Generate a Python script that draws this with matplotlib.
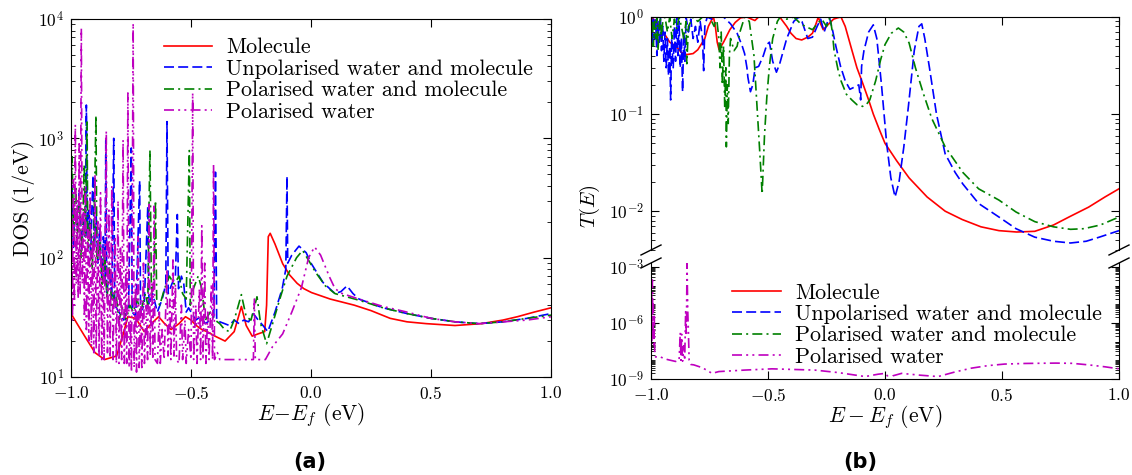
import numpy as np
import matplotlib
matplotlib.use("Agg")
import matplotlib.pyplot as plt
from matplotlib.ticker import LogLocator, FixedLocator, NullFormatter, LogFormatterSciNotation

plt.rcParams['font.family'] = 'serif'
plt.rcParams['font.serif'] = ['cmr10']
plt.rcParams['mathtext.fontset'] = 'cm'
plt.rcParams['axes.formatter.use_mathtext'] = True
plt.rcParams['axes.unicode_minus'] = True

labels = ['Molecule', 'Unpolarised water and molecule',
          'Polarised water and molecule', 'Polarised water']

# ---------- (a) DOS ----------
dos_mol_e = [-1.0, -0.97, -0.943, -0.9, -0.86, -0.81, -0.785, -0.763, -0.73, -0.695, -0.665, -0.635,
             -0.61, -0.583, -0.55, -0.523, -0.5, -0.478, -0.455, -0.433, -0.4, -0.358, -0.32, -0.29,
             -0.27, -0.245, -0.22, -0.193, -0.185, -0.178, -0.17, -0.15, -0.118, -0.09, -0.058,
             -0.03, 0.002, 0.08, 0.18, 0.25, 0.33, 0.4, 0.48, 0.6, 0.71, 0.8, 0.86, 0.93, 1.0]
dos_mol = [34, 27, 22, 16, 14, 15, 22, 32, 31, 24, 28, 32, 28, 25, 28, 32, 30, 27, 25, 24, 22, 20,
           24, 39, 27, 22, 23, 24, 40, 150, 160, 130, 89, 72, 61, 55, 51, 45, 40, 36, 31, 29, 28,
           27, 28, 30, 32, 35, 38]

dos_unpol_e = [-1.0, -0.995, -0.99, -0.985, -0.975, -0.965, -0.955, -0.948, -0.94, -0.936, -0.932,
               -0.925, -0.918, -0.912, -0.908, -0.903, -0.895, -0.888, -0.88, -0.872, -0.865,
               -0.858, -0.855, -0.851, -0.84, -0.83, -0.822, -0.818, -0.8, -0.78, -0.76, -0.749,
               -0.745, -0.73, -0.714, -0.71, -0.695, -0.68, -0.675, -0.66, -0.64, -0.62, -0.605,
               -0.6, -0.595, -0.58, -0.565, -0.557, -0.552, -0.54, -0.53, -0.52, -0.51, -0.5,
               -0.48, -0.46, -0.44, -0.42, -0.405, -0.398, -0.393, -0.38, -0.36, -0.34, -0.32,
               -0.3, -0.28, -0.26, -0.24, -0.22, -0.2, -0.18, -0.15, -0.12, -0.105, -0.1, -0.097,
               -0.08, -0.05, -0.02, 0.0, 0.05, 0.1, 0.125, 0.15, 0.175, 0.2, 0.3, 0.4, 0.5, 0.6,
               0.7, 0.8, 0.9, 1.0]
dos_unpol = [150, 400, 120, 250, 180, 350, 120, 200, 150, 1900, 150, 250, 100, 300, 490, 120, 220,
             90, 180, 70, 150, 60, 1020, 50, 80, 45, 1000, 40, 35, 30, 40, 830, 35, 32, 440, 35,
             40, 270, 40, 50, 35, 45, 60, 1380, 50, 60, 70, 230, 55, 70, 60, 35, 38, 35, 30, 32,
             28, 30, 32, 520, 30, 29, 28, 27, 30, 28, 30, 29, 34, 30, 27, 24, 35, 55, 80, 480, 90,
             105, 125, 110, 90, 62, 50, 52, 58, 50, 45, 38, 34, 31, 29, 28, 29, 31, 34]

dos_pol_e = [-1.0, -0.995, -0.99, -0.98, -0.975, -0.965, -0.958, -0.95, -0.945, -0.94, -0.933,
             -0.93, -0.92, -0.912, -0.905, -0.896, -0.892, -0.88, -0.87, -0.86, -0.85, -0.84,
             -0.83, -0.815, -0.8, -0.785, -0.77, -0.755, -0.74, -0.725, -0.71, -0.69, -0.68,
             -0.675, -0.671, -0.665, -0.655, -0.648, -0.643, -0.63, -0.61, -0.59, -0.57, -0.55,
             -0.535, -0.52, -0.507, -0.503, -0.49, -0.47, -0.455, -0.44, -0.42, -0.4, -0.38, -0.36,
             -0.34, -0.32, -0.29, -0.27, -0.25, -0.225, -0.21, -0.185, -0.16, -0.13, -0.1, -0.06,
             -0.035, -0.01, 0.02, 0.06, 0.1, 0.2, 0.3, 0.4, 0.5, 0.6, 0.7, 0.8, 0.9, 1.0]
dos_pol = [300, 700, 150, 400, 130, 300, 100, 220, 600, 150, 1370, 120, 200, 80, 150, 1550, 90,
           140, 60, 110, 45, 90, 40, 55, 30, 38, 30, 40, 35, 45, 35, 50, 40, 270, 790, 50, 60,
           300, 45, 40, 55, 70, 60, 70, 50, 45, 790, 40, 55, 70, 55, 30, 35, 30, 28, 25, 24, 30,
           49, 32, 30, 47, 28, 19, 28, 45, 70, 100, 115, 95, 75, 58, 50, 44, 38, 34, 31, 29, 28,
           29, 31, 33]

dos_water_e = [-1.0, -0.997, -0.994, -0.99, -0.986, -0.982, -0.978, -0.974, -0.97, -0.966, -0.962,
               -0.957, -0.953, -0.948, -0.944, -0.94, -0.936, -0.93, -0.926, -0.92, -0.915, -0.91,
               -0.905, -0.9, -0.895, -0.888, -0.883, -0.877, -0.872, -0.866, -0.862, -0.853,
               -0.848, -0.842, -0.837, -0.83, -0.825, -0.816, -0.811, -0.804, -0.8, -0.794,
               -0.789, -0.783, -0.778, -0.771, -0.768, -0.763, -0.758, -0.752, -0.748, -0.741,
               -0.737, -0.731, -0.727, -0.72, -0.716, -0.709, -0.705, -0.698, -0.694, -0.686,
               -0.681, -0.674, -0.67, -0.663, -0.659, -0.654, -0.65, -0.64, -0.632, -0.628, -0.62,
               -0.612, -0.6, -0.596, -0.588, -0.584, -0.575, -0.571, -0.565, -0.56, -0.55, -0.54,
               -0.535, -0.525, -0.52, -0.51, -0.5, -0.493, -0.489, -0.48, -0.475, -0.465, -0.46,
               -0.455, -0.45, -0.443, -0.438, -0.43, -0.425, -0.415, -0.41, -0.406, -0.402, -0.39,
               -0.38, -0.3, -0.24, -0.236, -0.232, -0.19, -0.16, -0.118, -0.08, -0.04, -0.01,
               0.015, 0.04, 0.077, 0.1, 0.13, 0.2, 0.3, 0.4, 0.5, 0.6, 0.7, 0.8, 0.9, 1.0]
dos_water = [25, 200, 30, 450, 40, 1300, 60, 300, 45, 900, 50, 8300, 60, 250, 30, 400, 25, 180, 20,
             350, 18, 150, 16, 500, 17, 200, 15, 350, 14, 120, 14, 1150, 16, 250, 15, 400, 14, 150,
             13, 300, 13, 120, 14, 970, 13, 80, 13, 2400, 12, 30, 11, 9200, 12, 60, 11, 150, 12,
             45, 12, 90, 13, 40, 14, 280, 15, 60, 14, 270, 14, 13, 35, 13, 25, 14, 80, 15, 45, 14,
             100, 15, 60, 14, 13, 40, 14, 30, 13, 25, 14, 2400, 14, 40, 13, 55, 14, 185, 14, 90,
             13, 35, 14, 60, 14, 610, 14, 16, 14, 14, 14, 45, 14, 14, 18, 23, 35, 56, 100, 123,
             105, 69, 55, 50, 45, 39, 35, 31, 29, 28, 29, 30, 32]

# ---------- (b) transmission ----------
t_mol_e = [-1.0, -0.98, -0.954, -0.92, -0.893, -0.87, -0.847, -0.82, -0.8, -0.77, -0.755, -0.74,
           -0.733, -0.725, -0.717, -0.709, -0.69, -0.663, -0.64, -0.617, -0.59, -0.57, -0.556,
           -0.54, -0.5, -0.45, -0.42, -0.402, -0.38, -0.356, -0.33, -0.31, -0.295, -0.285, -0.275,
           -0.264, -0.24, -0.22, -0.203, -0.188, -0.17, -0.142, -0.12, -0.096, -0.07, -0.05,
           -0.025, 0.0, 0.05, 0.103, 0.18, 0.257, 0.33, 0.41, 0.487, 0.563, 0.64, 0.72, 0.79,
           0.87, 0.94, 1.0]
t_mol = [1.0, 0.9, 0.74, 0.55, 0.5, 0.43, 0.41, 0.42, 0.46, 0.6, 0.8, 0.94, 1.0, 0.8, 0.55, 0.46,
         0.55, 0.74, 0.88, 0.98, 1.0, 0.95, 0.92, 1.0, 1.0, 1.0, 0.8, 0.68, 0.6, 0.58, 0.62, 0.68,
         0.85, 1.0, 0.85, 0.74, 0.85, 0.95, 0.98, 1.0, 0.8, 0.46, 0.3, 0.21, 0.14, 0.1, 0.07,
         0.05, 0.033, 0.022, 0.014, 0.010, 0.0082, 0.0069, 0.0063, 0.0061, 0.0062, 0.0072,
         0.0088, 0.011, 0.014, 0.017]

t_unpol_e = [-1.0, -0.995, -0.99, -0.985, -0.98, -0.975, -0.97, -0.965, -0.96, -0.955, -0.95,
             -0.945, -0.94, -0.935, -0.93, -0.925, -0.92, -0.916, -0.912, -0.905, -0.9, -0.895,
             -0.89, -0.885, -0.88, -0.875, -0.87, -0.865, -0.86, -0.855, -0.85, -0.84, -0.83,
             -0.82, -0.81, -0.8, -0.79, -0.78, -0.775, -0.77, -0.76, -0.74, -0.72, -0.69, -0.66,
             -0.632, -0.61, -0.6, -0.59, -0.586, -0.575, -0.565, -0.555, -0.54, -0.52, -0.505,
             -0.494, -0.48, -0.464, -0.45, -0.42, -0.39, -0.37, -0.355, -0.33, -0.31, -0.29,
             -0.275, -0.26, -0.245, -0.238, -0.225, -0.21, -0.19, -0.17, -0.15, -0.13, -0.112,
             -0.104, -0.1, -0.09, -0.07, -0.05, -0.035, -0.015, 0.007, 0.025, 0.043, 0.06, 0.08,
             0.1, 0.125, 0.145, 0.157, 0.17, 0.19, 0.22, 0.257, 0.3, 0.333, 0.4, 0.487, 0.56,
             0.64, 0.72, 0.793, 0.86, 0.916, 1.0]
t_unpol = [0.9, 0.5, 1.0, 0.6, 0.95, 0.4, 0.9, 0.55, 1.0, 0.45, 0.8, 0.35, 0.7, 0.3, 0.6, 0.25,
           0.5, 0.14, 0.6, 0.3, 0.8, 0.35, 1.0, 0.4, 0.9, 0.3, 0.6, 0.17, 0.7, 0.35, 1.0, 0.7,
           0.95, 0.6, 0.8, 0.55, 0.9, 0.6, 0.28, 0.8, 1.0, 0.95, 1.0, 1.0, 0.85, 0.68, 0.5, 0.42,
           0.3, 0.24, 0.17, 0.2, 0.3, 0.31, 0.4, 0.52, 0.55, 0.35, 0.27, 0.33, 0.6, 0.9, 1.0, 0.9,
           0.6, 0.62, 0.8, 0.95, 0.7, 0.9, 1.0, 0.75, 0.5, 0.31, 0.22, 0.18, 0.19, 0.2, 0.14,
           0.31, 0.45, 0.7, 0.83, 0.6, 0.2, 0.05, 0.022, 0.014, 0.02, 0.045, 0.12, 0.45, 0.8,
           0.85, 0.6, 0.3, 0.1, 0.039, 0.025, 0.019, 0.012, 0.0087, 0.0066, 0.0054, 0.0049,
           0.0047, 0.0049, 0.0054, 0.0063]

t_pol_e = [-1.0, -0.995, -0.99, -0.985, -0.98, -0.975, -0.97, -0.965, -0.96, -0.955, -0.95,
           -0.94, -0.93, -0.92, -0.91, -0.9, -0.89, -0.88, -0.87, -0.86, -0.85, -0.847, -0.84,
           -0.82, -0.8, -0.78, -0.75, -0.73, -0.72, -0.71, -0.705, -0.7, -0.695, -0.69, -0.685,
           -0.68, -0.678, -0.674, -0.67, -0.665, -0.66, -0.645, -0.632, -0.62, -0.6, -0.58,
           -0.56, -0.545, -0.535, -0.525, -0.515, -0.505, -0.494, -0.48, -0.46, -0.448, -0.42,
           -0.39, -0.36, -0.34, -0.31, -0.29, -0.27, -0.25, -0.235, -0.225, -0.218, -0.2,
           -0.188, -0.165, -0.142, -0.12, -0.096, -0.08, -0.065, -0.04, -0.019, 0.0, 0.027,
           0.057, 0.08, 0.103, 0.13, 0.165, 0.2, 0.257, 0.333, 0.4, 0.487, 0.56, 0.64, 0.72,
           0.793, 0.85, 0.92, 1.0]
t_pol = [0.7, 1.0, 0.5, 0.9, 0.6, 1.0, 0.45, 0.8, 1.0, 0.6, 0.9, 1.0, 0.7, 1.0, 0.6, 0.95, 0.75,
         1.0, 0.8, 0.6, 0.9, 0.33, 0.8, 1.0, 0.9, 1.0, 1.0, 0.8, 1.0, 0.6, 0.3, 0.7, 0.2, 0.5,
         0.12, 0.3, 0.046, 0.2, 0.08, 0.4, 0.6, 0.45, 0.5, 0.7, 1.0, 0.9, 0.4, 0.1, 0.04, 0.015,
         0.06, 0.15, 0.31, 0.6, 0.9, 1.0, 0.95, 1.0, 0.85, 0.8, 0.74, 0.85, 0.95, 0.8, 1.0, 0.7,
         0.46, 0.28, 0.22, 0.16, 0.14, 0.125, 0.12, 0.125, 0.14, 0.22, 0.36, 0.52, 0.68, 0.77,
         0.7, 0.54, 0.3, 0.16, 0.09, 0.046, 0.025, 0.017, 0.013, 0.0098, 0.0078, 0.0069,
         0.0065, 0.0066, 0.0072, 0.0087]

t_water_e = [-1.0, -0.998, -0.996, -0.994, -0.992, -0.99, -0.988, -0.986, -0.984, -0.98, -0.966,
             -0.93, -0.895, -0.88, -0.875, -0.872, -0.869, -0.865, -0.86, -0.856, -0.852,
             -0.849, -0.846, -0.843, -0.84, -0.837, -0.83, -0.817, -0.78, -0.739, -0.71, -0.6,
             -0.483, -0.3, -0.199, -0.085, -0.03, 0.0, 0.01, 0.021, 0.035, 0.071, 0.15, 0.227,
             0.3, 0.369, 0.44, 0.511, 0.6, 0.73, 0.8, 0.87, 0.94, 1.0]
t_water = [2e-8, 3e-5, 1e-7, 2e-4, 5e-7, 1e-5, 5e-8, 3e-6, 2e-8, 1.5e-8, 1.6e-8, 1.1e-8, 8.7e-9,
           1e-8, 3e-7, 1e-8, 2.5e-7, 9e-9, 6e-8, 1e-8, 4e-6, 2e-7, 1.5e-3, 5e-6, 3e-7, 1e-8,
           6e-9, 5.7e-9, 4e-9, 2e-9, 2.5e-9, 3e-9, 3.5e-9, 3e-9, 2.2e-9, 1.35e-9, 1.8e-9, 2e-9,
           1.5e-9, 8e-10, 1.5e-9, 2e-9, 1.6e-9, 1.35e-9, 2.4e-9, 3.8e-9, 5.2e-9, 6.3e-9, 6.8e-9,
           7.1e-9, 6.9e-9, 5.7e-9, 4.5e-9, 3.5e-9]

styles = [dict(color='r', ls='-'),
          dict(color='b', dashes=(6, 2.5)),
          dict(color='g', dashes=(6, 2.5, 1.2, 2.5)),
          dict(color='m', dashes=(6, 2.5, 1.2, 2.5, 1.2, 2.5))]

xtick_labels = [r'$-1.0$', r'$-0.5$', r'$0.0$', r'$0.5$', r'$1.0$']


def style_ax(ax):
    ax.tick_params(which='both', direction='in', labelsize=12.5)
    ax.tick_params(which='major', length=6, width=0.8)
    ax.tick_params(which='minor', length=3, width=0.6)
    ax.tick_params(axis='x', pad=5.5)
    ax.tick_params(axis='y', pad=5)
    ax.set_xlim(-1, 1)
    ax.set_xticks([-1.0, -0.5, 0.0, 0.5, 1.0])


fig = plt.figure(figsize=(11.32, 4.75), dpi=100)

# ----- panel (a)
ax = fig.add_axes([71 / 1132, 1 - 377 / 475, 480 / 1132, 358 / 475])
dos_series = [(dos_mol_e, dos_mol), (dos_unpol_e, dos_unpol),
              (dos_pol_e, dos_pol), (dos_water_e, dos_water)]
for (e, v), st, lab in zip(dos_series, styles, labels):
    ax.plot(e, v, lw=1.2, label=lab, **st)
ax.set_yscale('log')
ax.set_ylim(10, 1e4)
style_ax(ax)
ax.tick_params(which='both', top=True, right=True)
ax.set_xticklabels(xtick_labels)
ax.set_ylabel('DOS (1/eV)', fontsize=15.5, labelpad=2)
ax.set_xlabel(r'$E\!-\!E_f$ (eV)', fontsize=15.5, labelpad=0)
ax.legend(loc='upper left', bbox_to_anchor=(0.175, 0.972), frameon=False, fontsize=15.8,
          handlelength=2.2, handletextpad=0.65, labelspacing=0.09, borderaxespad=0)

# ----- panel (b), broken axis
left_b = 651 / 1132
width_b = 468 / 1132
ax_t = fig.add_axes([left_b, 1 - 250 / 475, width_b, 233 / 475])
ax_b = fig.add_axes([left_b, 1 - 379 / 475, width_b, 116 / 475])
t_series = [(t_mol_e, t_mol), (t_unpol_e, t_unpol), (t_pol_e, t_pol), (t_water_e, t_water)]
for a in (ax_t, ax_b):
    for (e, v), st, lab in zip(t_series, styles, labels):
        a.plot(e, v, lw=1.2, label=lab, **st)
    a.set_yscale('log')
    style_ax(a)
    a.tick_params(which='both', right=True)

ax_t.set_ylim(10 ** -2.4, 1.0)
ax_t.spines['bottom'].set_visible(False)
ax_t.tick_params(which='both', bottom=False, top=True, labelbottom=False)

ax_b.set_ylim(1e-9, 10 ** -2.79)
ax_b.spines['top'].set_visible(False)
ax_b.tick_params(which='both', top=False)
ax_b.yaxis.set_major_locator(FixedLocator([1e-9, 1e-6, 1e-3]))
ax_b.yaxis.set_major_formatter(LogFormatterSciNotation())
ax_b.yaxis.set_minor_locator(LogLocator(base=10, subs=np.arange(1, 10), numticks=100))
ax_b.yaxis.set_minor_formatter(NullFormatter())
ax_b.set_xticklabels(xtick_labels)
ax_b.set_xlabel(r'$E - E_f$ (eV)', fontsize=15.5, labelpad=0)

# break marks
dx = 10 / 468
for xa in (0, 1):
    ax_t.plot([xa - dx, xa + dx], [-5 / 233, 5 / 233], transform=ax_t.transAxes,
              color='k', lw=1, clip_on=False)
    ax_b.plot([xa - dx, xa + dx], [1 - 5 / 116, 1 + 5 / 116], transform=ax_b.transAxes,
              color='k', lw=1, clip_on=False)

ax_b.legend(loc='upper left', bbox_to_anchor=(0.155, 0.9), frameon=False, fontsize=15.8,
            handlelength=2.2, handletextpad=0.65, labelspacing=0.08, borderaxespad=0)

fig.text(590 / 1132, 1 - 206 / 475, r'$T(E)$', fontsize=15, rotation=90,
         ha='center', va='center')

fig.text(310 / 1132, 1 - 462 / 475, '(a)', fontsize=15, fontweight='bold',
         family='DejaVu Sans', ha='center', va='center')
fig.text(860 / 1132, 1 - 462 / 475, '(b)', fontsize=15, fontweight='bold',
         family='DejaVu Sans', ha='center', va='center')

fig.savefig('out.png', dpi=100)
